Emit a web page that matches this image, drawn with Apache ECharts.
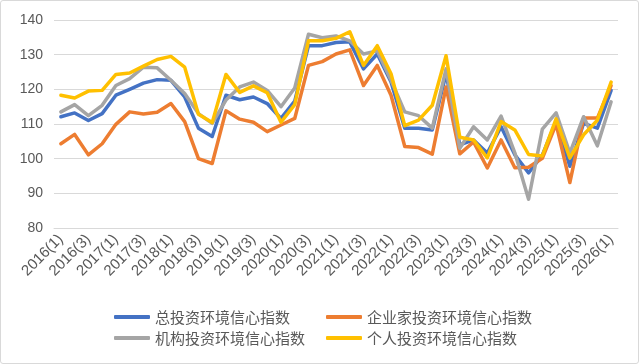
<!DOCTYPE html>
<html>
<head>
<meta charset="utf-8">
<script src="https://cdn.jsdelivr.net/npm/echarts@6/dist/echarts.min.js"></script>
<style>
html,body{margin:0;padding:0;background:#fff;}
#c{width:639px;height:364px;box-sizing:border-box;border:1px solid #d9d9d9;border-radius:3px;}
</style>
</head>
<body>
<div id="c"></div>
<script>
const categories = [];
for (let y = 2016; y <= 2026; y++) {
  for (let q = 1; q <= 4; q++) {
    if (y === 2026 && q > 1) break;
    categories.push(y + '(' + q + ')');
  }
}
const seriesNames = ['总投资环境信心指数', '企业家投资环境信心指数', '机构投资环境信心指数', '个人投资环境信心指数'];
const totalIdx = [112.1, 113.2, 111, 113, 118.3, 120, 121.8, 122.8, 122.6, 117.8, 108.8, 106.4, 118.3, 117, 117.8, 115.9, 111.6, 116.6, 132.6, 132.6, 133.5, 133.7, 125.9, 130.2, 122.1, 108.8, 108.8, 108.3, 124.5, 104, 105.4, 101.6, 109.2, 101.1, 95.9, 101, 110.8, 97.8, 110.2, 108.8, 119.7];
const entrepreneurIdx = [104.3, 107, 101.1, 104.3, 109.9, 113.5, 112.9, 113.4, 115.9, 110.7, 100, 98.6, 113.8, 111.4, 110.5, 107.8, 109.7, 111.6, 126.9, 128, 130.2, 131.4, 121.1, 126.9, 118.3, 103.5, 103.2, 101.3, 120.7, 101.4, 104.8, 97.3, 105.4, 97.4, 97.5, 100.1, 110, 93.1, 111.7, 111.7, 121.1];
const institutionIdx = [113.5, 115.6, 112.4, 115.4, 121.1, 123.1, 126.4, 126.2, 122.6, 118.8, 113, 110.2, 116.9, 120.7, 122.1, 119.7, 115, 120.4, 135.9, 134.9, 135.4, 134, 130.2, 131.1, 122.6, 113.5, 112.4, 108.8, 125.9, 103, 109.2, 105.4, 112.3, 101.7, 88.3, 108.5, 113.2, 101.6, 112.1, 103.7, 116.4];
const individualIdx = [118.3, 117.5, 119.5, 119.7, 124.3, 124.7, 126.7, 128.6, 129.5, 126.4, 112.8, 110.4, 124.3, 119.1, 121, 119, 110.5, 115.6, 134, 134, 134.7, 136.6, 126.9, 132.6, 124.5, 109.5, 111.1, 115.4, 129.7, 106.2, 105.4, 100.2, 110.7, 108.3, 101.2, 100.8, 111.5, 100.2, 106.9, 111.1, 122.1];
const yTicks = [80, 90, 100, 110, 120, 130, 140];

const colors = ['#4472C4', '#ED7D31', '#A5A5A5', '#FFC000'];
const values = [totalIdx, entrepreneurIdx, institutionIdx, individualIdx];

const chart = echarts.init(document.getElementById('c'), null, {renderer: 'canvas'});
const legendCommon = {
  orient: 'vertical',
  icon: 'roundRect',
  itemWidth: 36,
  itemHeight: 4,
  itemGap: 3,
  padding: 0,
  selectedMode: false,
  textStyle: {fontSize: 15, color: '#595959', fontFamily: '"Noto Sans CJK SC", sans-serif', lineHeight: 18}
};
chart.setOption({
  animation: false,
  color: colors,
  grid: {left: 53, right: 20, top: 19, bottom: 135, containLabel: false},
  legend: [
    Object.assign({}, legendCommon, {left: 113, top: 307, data: [seriesNames[0], seriesNames[2]]}),
    Object.assign({}, legendCommon, {left: 325, top: 307, data: [seriesNames[1], seriesNames[3]]})
  ],
  xAxis: {
    type: 'category',
    data: categories,
    boundaryGap: true,
    axisLine: {show: true, lineStyle: {color: '#d9d9d9', width: 1}},
    axisTick: {show: false},
    axisLabel: {
      interval: 1, rotate: 45, fontSize: 15, color: '#595959', margin: 9,
      fontFamily: '"Liberation Sans", Arial, sans-serif'
    },
    splitLine: {show: false}
  },
  yAxis: {
    type: 'value',
    min: yTicks[0], max: yTicks[yTicks.length - 1], interval: 10,
    axisLine: {show: false},
    axisTick: {show: false},
    axisLabel: {fontSize: 14, color: '#595959', margin: 11, fontFamily: '"Liberation Sans", Arial, sans-serif'},
    splitLine: {lineStyle: {color: '#d9d9d9', width: 1}}
  },
  series: seriesNames.map((n, i) => ({
    name: n,
    type: 'line',
    data: values[i],
    symbol: 'none',
    lineStyle: {width: 3.5, color: colors[i], join: 'round', cap: 'round'},
    itemStyle: {color: colors[i]}
  }))
});
</script>
</body>
</html>
